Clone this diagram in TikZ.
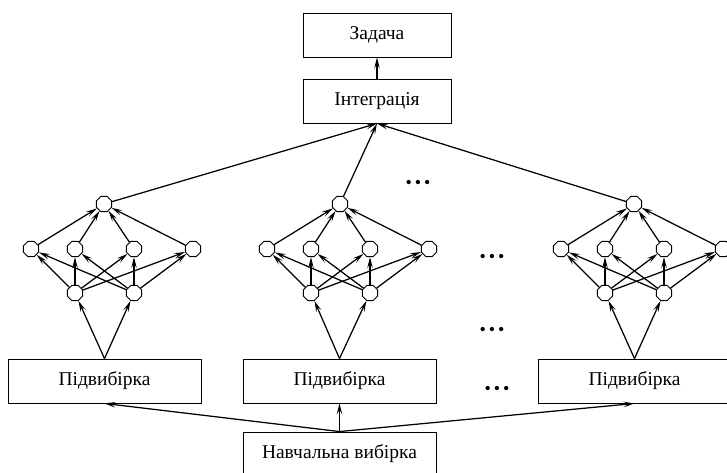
\documentclass[tikz,border=0pt]{standalone}
\usepackage{fontspec}
\setmainfont{Liberation Serif}
\usetikzlibrary{shapes.geometric,arrows.meta}
\tikzset{
  blk/.style={draw, line width=0.9pt, minimum width=148pt, minimum height=44pt,
    inner sep=0pt, font=\fontsize{19.5}{22}\selectfont},
  sub/.style={blk, minimum width=193pt},
  neuron/.style={draw, regular polygon, regular polygon sides=8, minimum size=16.5pt,
    inner sep=0pt, line width=0.9pt, fill=white},
  link/.style={line width=1.25pt, -{Stealth[length=11pt,width=5.5pt,inset=4.5pt]}},
  etc/.style={font=\fontsize{18}{18}\selectfont, inner sep=0pt}
}
\begin{document}
\begin{tikzpicture}[x=1pt,y=-1pt]
\useasboundingbox (0,0) rectangle (727,472);

% top blocks
\node[blk] (task)  at (377,35)  {Задача};
\node[blk] (integ) at (377,101) {Інтеграція};

% subsample blocks and training set
\node[sub] (s1) at (104.5,381) {Підвибірка};
\node[sub] (s2) at (339.5,381) {Підвибірка};
\node[sub] (s3) at (634.5,381) {Підвибірка};
\node[sub] (nav) at (339.5,454) {Навчальна вибірка};

% three small networks
\foreach \c/\k in {104/1,340/2,634/3} {
  \node[neuron] (t\k) at (\c,204) {};
  \foreach \dx [count=\i] in {-73,-29,30,89}
    \node[neuron] (h\k\i) at (\c+\dx,249) {};
  \node[neuron] (b\k1) at (\c-29,293) {};
  \node[neuron] (b\k2) at (\c+30,293) {};
}

% connections
\draw[link] (integ) -- (task);
\foreach \k in {1,2,3} {
  \foreach \i in {1,...,4} {
    \draw[link] (h\k\i) -- (t\k);
    \foreach \j in {1,2}
      \draw[link] (b\k\j) -- (h\k\i);
  }
  \foreach \j in {1,2}
    \draw[link] (s\k.north) -- (b\k\j);
  \draw[link] (t\k) -- (integ.south);
  \draw[link] (nav.north) -- (s\k.south);
}

% ellipsis marks
\node[etc] (e1) at (418,184) {•\hspace{3pt}•\hspace{3pt}•};
\node[etc] (e2) at (492,258) {•\hspace{3pt}•\hspace{3pt}•};
\node[etc] (e3) at (492,331) {•\hspace{3pt}•\hspace{3pt}•};
\node[etc] (e4) at (497,390) {•\hspace{3pt}•\hspace{3pt}•};
\end{tikzpicture}
\end{document}
